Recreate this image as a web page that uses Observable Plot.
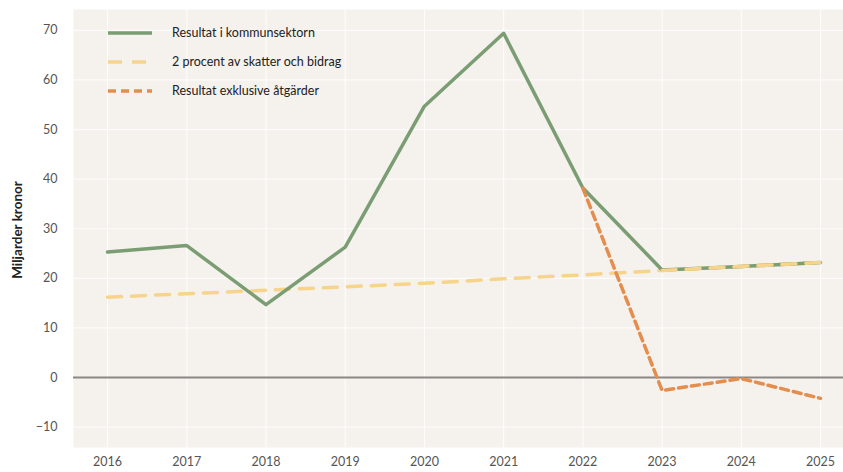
<!DOCTYPE html>
<html>
<head>
<meta charset="utf-8">
<script src="https://cdn.jsdelivr.net/npm/d3@7"></script>
<script src="https://cdn.jsdelivr.net/npm/@observablehq/plot@0.6"></script>
<style>
  html, body { margin: 0; padding: 0; background: #fff; }
  #wrap { position: relative; width: 843px; height: 472px; font-family: Lato, "Open Sans", sans-serif; }
  #legend { position: absolute; left: 108px; top: 18px; font-size: 12.5px; color: #222; }
  .row { display: flex; align-items: center; height: 29px; }
  .row svg { width: 44px; height: 10px; margin-right: 20px; }
</style>
</head>
<body>
<div id="wrap"></div>
<script>
const years = [2016, 2017, 2018, 2019, 2020, 2021, 2022, 2023, 2024, 2025];
const resultat = [25.3, 26.6, 14.7, 26.3, 54.7, 69.4, 38.2, 21.7, 22.4, 23.2];
const tvaProcent = [16.2, 16.9, 17.6, 18.3, 19.0, 19.9, 20.7, 21.6, 22.4, 23.2];
const exklYears = [2022, 2023, 2024, 2025];
const exklAtgarder = [38.2, -2.6, -0.2, -4.2];
const yTicks = [-10, 0, 10, 20, 30, 40, 50, 60, 70];
const seriesNames = ["Resultat i kommunsektorn", "2 procent av skatter och bidrag", "Resultat exklusive åtgärder"];
const colors = ["#7b9d73", "#f6d48c", "#e38d4f"];

const dResultat = years.map((y, i) => ({year: y, value: resultat[i]}));
const dTva = years.map((y, i) => ({year: y, value: tvaProcent[i]}));
const dExkl = exklYears.map((y, i) => ({year: y, value: exklAtgarder[i]}));

const chart = Plot.plot({
  width: 843,
  height: 472,
  marginLeft: 73,
  marginRight: 0,
  marginTop: 9,
  marginBottom: 25,
  style: {fontFamily: "Lato, 'Open Sans', sans-serif", fontSize: "12.5px", color: "#555", background: "transparent"},
  x: {domain: [2015.57, 2025.29], label: null},
  y: {domain: [-14.1, 74.2], label: null},
  marks: [
    Plot.frame({fill: "#f5f1ed", stroke: null}),
    Plot.gridY(yTicks, {stroke: "#ffffff", strokeOpacity: 0.8, strokeWidth: 1.2}),
    Plot.gridX(years, {stroke: "#ffffff", strokeOpacity: 0.8, strokeWidth: 1.2}),
    Plot.axisX(years, {tickSize: 0, tickPadding: 10, tickFormat: d => String(d), fill: "#555", fontSize: 12.5, label: null}),
    Plot.axisY(yTicks, {tickSize: 0, tickPadding: 16, fill: "#555", fontSize: 12.5, label: null}),
    Plot.ruleY([0], {stroke: "#8c8784", strokeWidth: 2}),
    Plot.line(dTva, {x: "year", y: "value", stroke: colors[1], strokeWidth: 3.5, strokeDasharray: "14,10"}),
    Plot.line(dResultat, {x: "year", y: "value", stroke: colors[0], strokeWidth: 3.5}),
    Plot.line(dExkl, {x: "year", y: "value", stroke: colors[2], strokeWidth: 3.5, strokeDasharray: "8,5"}),
    Plot.line(dTva.filter(d => d.year >= 2023), {x: "year", y: "value", stroke: colors[1], strokeWidth: 3.5, strokeDasharray: "14,10"})
  ]
});

const wrap = document.getElementById("wrap");
wrap.appendChild(chart);

// y-axis title
const svg = d3.select(chart);
svg.append("text")
  .attr("transform", "translate(22,230) rotate(-90)")
  .attr("text-anchor", "middle")
  .attr("font-size", 13.5)
  .attr("font-weight", "bold")
  .attr("fill", "#222")
  .text("Miljarder kronor");

// legend
const legend = document.createElement("div");
legend.id = "legend";
const dashes = [null, "14,10", "8,5"];
seriesNames.forEach((name, i) => {
  const row = document.createElement("div");
  row.className = "row";
  row.innerHTML = `<svg><line x1="0" y1="5" x2="44" y2="5" stroke="${colors[i]}" stroke-width="3.5" ${dashes[i] ? `stroke-dasharray="${dashes[i]}"` : ""}/></svg><span>${name}</span>`;
  legend.appendChild(row);
});
wrap.appendChild(legend);
</script>
</body>
</html>
